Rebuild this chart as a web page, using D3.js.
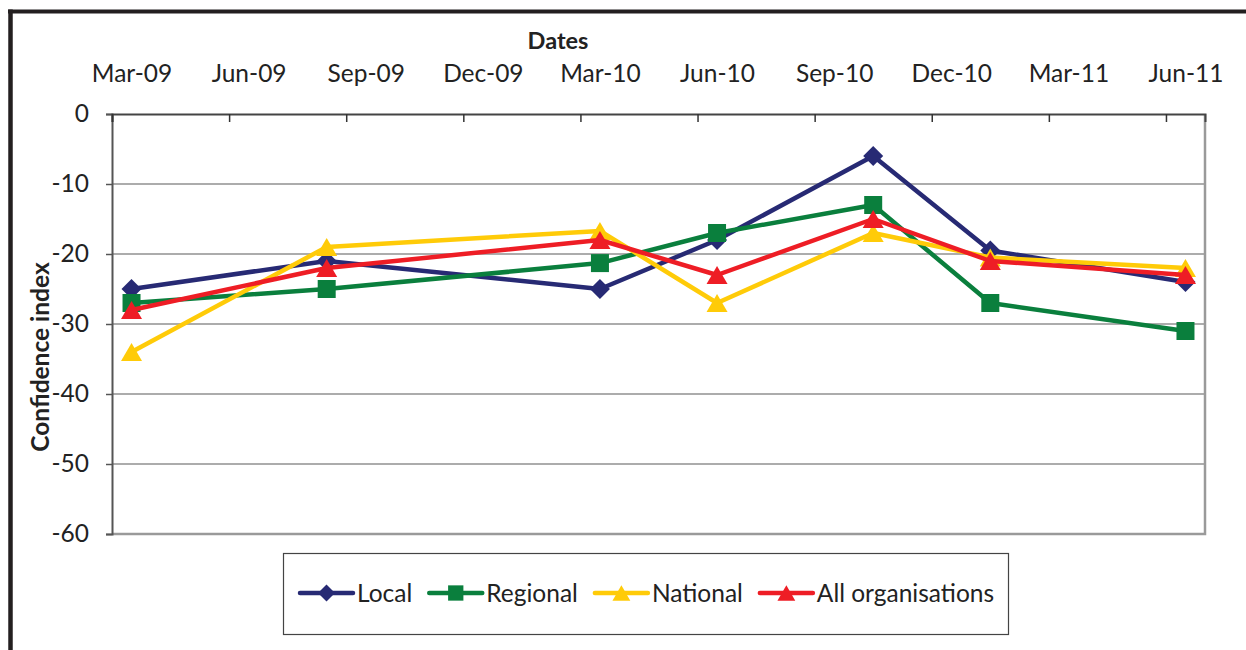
<!DOCTYPE html>
<html>
<head>
<meta charset="utf-8">
<script src="https://cdn.jsdelivr.net/npm/d3@7"></script>
<style>
  body { margin: 0; background: #fff; }
  svg text { font-family: Lato, "Open Sans", sans-serif; fill: #222; }
  .grid line { stroke: #5a5a5a; stroke-width: 1.2; }
</style>
</head>
<body>
<div id="chart"></div>
<script>
// survey dates (first of the month) and confidence index per group
var dates = ["2009-03", "2009-08", "2010-03", "2010-06", "2010-10", "2011-01", "2011-06"];
var local = [-25, -21, -25, -18, -6, -19.5, -24];
var regional = [-27, -25, -21.3, -17, -13, -27, -31];
var national = [-34, -19, -16.7, -27, -17, -20.5, -22];
var allOrgs = [-28, -22, -18, -23, -15, -21, -23];

var seriesNames = ["Local", "Regional", "National", "All organisations"];
var seriesColours = ["#272a74", "#0a7f3d", "#ffcb08", "#ee1d25"];
var seriesMarkers = ["diamond", "square", "triangle", "triangle"];

var axisStart = "2009-03", axisEnd = "2011-07";   // month axis, one slot per month
var yTicks = [0, -10, -20, -30, -40, -50, -60];

var W = 1246, H = 650;
var margin = {top: 114, right: 41, bottom: 116, left: 112};
var width = W - margin.left - margin.right,
    height = H - margin.top - margin.bottom;

var parseMonth = d3.timeParse("%Y-%m");
var fmtMonth = d3.timeFormat("%b-%y");
var t0 = parseMonth(axisStart);
var nMonths = d3.timeMonth.count(t0, parseMonth(axisEnd));
function monthIndex(s) { return d3.timeMonth.count(t0, parseMonth(s)); }

var svg = d3.select("#chart").append("svg")
  .attr("width", W).attr("height", H);

// outer frame lines
svg.append("line").attr("x1", 8).attr("x2", W).attr("y1", 11.5).attr("y2", 11.5)
  .attr("stroke", "#231f20").attr("stroke-width", 4);
svg.append("line").attr("x1", 10.5).attr("x2", 10.5).attr("y1", 9.5).attr("y2", H)
  .attr("stroke", "#231f20").attr("stroke-width", 4.5);

var g = svg.append("g")
  .attr("transform", "translate(" + margin.left + "," + margin.top + ")");

var x = d3.scaleLinear().domain([0, nMonths]).range([0, width]);
var y = d3.scaleLinear().domain([-60, 0]).range([height, 0]);

// gridlines
g.append("g").attr("class", "grid")
  .selectAll("line").data(yTicks.filter(function(d) { return d != 0 && d != -60; }))
  .enter().append("line")
  .attr("x1", 0).attr("x2", width)
  .attr("y1", function(d) { return y(d); }).attr("y2", function(d) { return y(d); });

// plot border (right + bottom)
g.append("path")
  .attr("d", "M" + width + ",0V" + height + "H0")
  .attr("fill", "none").attr("stroke", "#9a9a9a").attr("stroke-width", 2.5);

// y axis (plain hyphen for negatives, like the original)
var yAxis = g.append("g")
  .call(d3.axisLeft(y).tickValues(yTicks).tickSize(6).tickPadding(17)
    .tickFormat(function(d) { return String(d); }));
yAxis.select(".domain").attr("stroke", "#555").attr("stroke-width", 2);
yAxis.selectAll(".tick line").attr("stroke", "#555").attr("stroke-width", 1.5);
yAxis.selectAll("text").style("font-size", "24.5px").attr("fill", "#222");

// top axis: ticks on month slot boundaries, labels at slot centres
var tickMonths = d3.range(0, nMonths, 3);
var xAxis = g.append("g")
  .call(d3.axisTop(x).tickValues(tickMonths).tickSize(-8).tickFormat(""));
xAxis.select(".domain").attr("stroke", "#444").attr("stroke-width", 2);
xAxis.selectAll(".tick line").attr("stroke", "#333").attr("stroke-width", 1.5);

var xLabels = g.append("g")
  .call(d3.axisTop(x).tickValues(tickMonths.map(function(m) { return m + 0.5; }))
    .tickSize(0).tickPadding(32)
    .tickFormat(function(m) { return fmtMonth(d3.timeMonth.offset(t0, Math.floor(m))); }));
xLabels.select(".domain").remove();
xLabels.selectAll("text").style("font-size", "24.5px").attr("fill", "#222");

// axis titles
svg.append("text")
  .attr("x", 558).attr("y", 49)
  .attr("text-anchor", "middle")
  .style("font-size", "23.5px").style("font-weight", "bold")
  .text("Dates");

svg.append("text")
  .attr("transform", "translate(49,357) rotate(-90)")
  .attr("text-anchor", "middle")
  .style("font-size", "24.5px").style("font-weight", "bold")
  .text("Confidence index");

// marker shapes
function markerPath(type) {
  if (type == "diamond") return "M0,-10L10,0L0,10L-10,0Z";
  if (type == "square") return "M-9,-9H9V9H-9Z";
  return "M0,-9L10.5,9H-10.5Z";
}

var seriesValues = [local, regional, national, allOrgs];
var series = seriesNames.map(function(name, i) {
  return {
    name: name,
    colour: seriesColours[i],
    marker: seriesMarkers[i],
    values: dates.map(function(d, j) { return {m: monthIndex(d) + 0.5, v: seriesValues[i][j]}; })
  };
});

var line = d3.line()
  .x(function(d) { return x(d.m); })
  .y(function(d) { return y(d.v); });

var sg = g.selectAll(".series").data(series).enter().append("g").attr("class", "series");

sg.append("path")
  .attr("d", function(d) { return line(d.values); })
  .attr("fill", "none")
  .attr("stroke", function(d) { return d.colour; })
  .attr("stroke-width", 4.5)
  .attr("stroke-linejoin", "round");

sg.each(function(s) {
  d3.select(this).selectAll(".mk").data(s.values).enter().append("path")
    .attr("class", "mk")
    .attr("d", markerPath(s.marker))
    .attr("transform", function(d) { return "translate(" + x(d.m) + "," + y(d.v) + ")"; })
    .attr("fill", s.colour);
});

// legend
var legX = 283, legY = 553, legW = 725, legH = 81;
svg.append("rect")
  .attr("x", legX + 0.5).attr("y", legY + 0.5)
  .attr("width", legW).attr("height", legH)
  .attr("fill", "#fff").attr("stroke", "#444").attr("stroke-width", 1.2);

var legend = svg.append("g");
var items = legend.selectAll("g").data(series).enter().append("g");

items.append("line")
  .attr("x1", 0).attr("x2", 53).attr("y1", 0).attr("y2", 0)
  .attr("stroke", function(d) { return d.colour; })
  .attr("stroke-width", 4.5).attr("stroke-linecap", "round");
items.append("path")
  .attr("d", function(d) { return markerPath(d.marker); })
  .attr("transform", "translate(26.5,0) scale(0.85)")
  .attr("fill", function(d) { return d.colour; });
items.append("text")
  .attr("x", 57).attr("y", 8.5)
  .style("font-size", "24.5px")
  .text(function(d) { return d.name; });

var cx = 300;
items.each(function() {
  var w = 57 + this.querySelector("text").getComputedTextLength();
  d3.select(this).attr("transform", "translate(" + cx + "," + (legY + 40) + ")");
  cx += w + 17;
});
</script>
</body>
</html>
